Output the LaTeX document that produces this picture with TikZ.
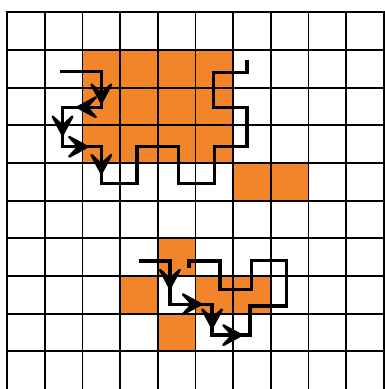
\documentclass[tikz,border=0pt]{standalone}
\definecolor{fillorange}{RGB}{242,132,42}
\begin{document}
\begin{tikzpicture}[x=1cm,y=-1cm,
  gridline/.style={line width=1.4pt, black, line cap=rect},
  walk/.style={line width=2.5pt, black, line join=miter},
  cellfill/.style={fill=fillorange},
  chev/.pic={\filldraw[black, line width=1.8pt, line join=round]
     (0,0) -- (-0.48,0.26) -- (-0.24,0) -- (-0.48,-0.26) -- cycle;}]
\useasboundingbox (-0.19,-0.326) rectangle (10.03,10.0);
% coloured cells
\fill[cellfill] (2,1) rectangle (6,4);
\fill[cellfill] (6,4) rectangle (8,5);
\fill[cellfill] (4,6) rectangle (5,7);
\fill[cellfill] (3,7) rectangle (4,8);
\fill[cellfill] (5,7) rectangle (7,8);
\fill[cellfill] (4,8) rectangle (5,9);
% grid
\foreach \i in {0,...,10} \draw[gridline] (\i,0) -- (\i,10.3);
\foreach \j in {0,...,9} \draw[gridline] (0,\j) -- (10,\j);
% upper walk
\draw[walk] (1.41,1.57) -- (2.50,1.57) -- (2.50,2.52) -- (1.47,2.52) -- (1.47,3.57)
  -- (2.50,3.57) -- (2.50,4.55) -- (3.45,4.55) -- (3.45,3.57) -- (4.55,3.57)
  -- (4.55,4.55) -- (5.50,4.55) -- (5.50,3.57) -- (6.37,3.57) -- (6.37,2.52)
  -- (5.47,2.52) -- (5.47,1.60) -- (6.37,1.60) -- (6.37,1.27);
\pic[rotate=-90] at (2.50,2.40) {chev};
\pic[rotate=180] at (1.87,2.52) {chev};
\pic[rotate=-90] at (1.47,3.25) {chev};
\pic at (2.13,3.57) {chev};
\pic[rotate=-90] at (2.50,4.27) {chev};
% lower walk
\draw[walk] (3.49,6.60) -- (4.32,6.60) -- (4.32,7.75) -- (5.44,7.75) -- (5.44,8.57)
  -- (6.45,8.57) -- (6.45,7.80) -- (7.42,7.80) -- (7.42,6.59) -- (6.49,6.59)
  -- (6.49,7.35) -- (5.65,7.35) -- (5.65,6.60) -- (4.83,6.60) -- (4.83,6.79);
\pic[rotate=-90] at (4.32,7.32) {chev};
\pic at (5.15,7.75) {chev};
\pic[rotate=-90] at (5.44,8.37) {chev};
\pic at (6.22,8.57) {chev};
\end{tikzpicture}
\end{document}
